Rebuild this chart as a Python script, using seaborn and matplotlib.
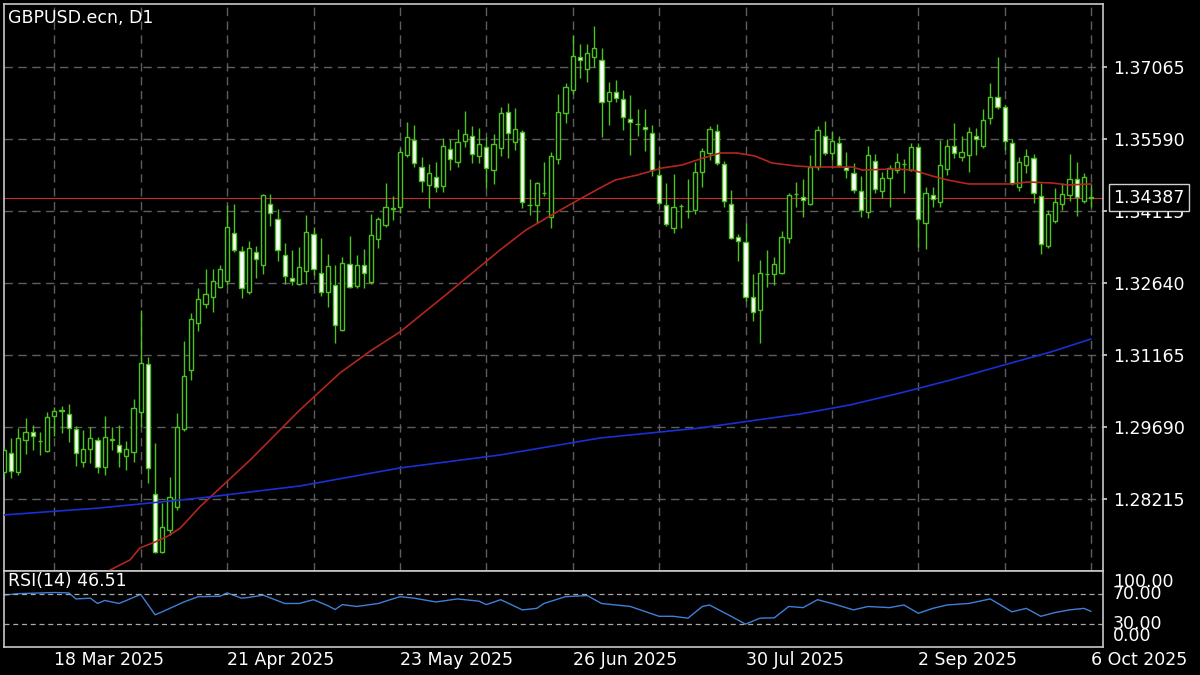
import matplotlib
matplotlib.use("Agg")
import matplotlib.pyplot as plt
import numpy as np
import pandas as pd
import seaborn as sns

sns.set_theme(style="dark", rc={"axes.facecolor": "black", "figure.facecolor": "black"})
plt.rcParams["font.family"] = ["DejaVu Sans"]

#-- data (GBPUSD daily) --
dates = pd.bdate_range("2025-03-07", "2025-10-06")

opens = [1.28769, 1.29158, 1.28769, 1.29424, 1.29588, 1.29404, 1.29199, 1.29916, 1.30039, 1.29957,
         1.29650, 1.28974, 1.29240, 1.29424, 1.28871, 1.29445, 1.29322, 1.29097, 1.29179, 1.29998,
         1.30981, 1.28318, 1.27130, 1.27580, 1.28052, 1.29650, 1.30858, 1.31821, 1.32210, 1.32353,
         1.32558, 1.32681, 1.33665, 1.33296, 1.32456, 1.33275, 1.33009, 1.34259, 1.33952, 1.33214,
         1.32743, 1.32620, 1.32886, 1.33644, 1.32845, 1.32456, 1.32599, 1.31677, 1.33030, 1.32579,
         1.33009, 1.32661, 1.33542, 1.33829, 1.34157, 1.34197, 1.35263, 1.35570, 1.35017, 1.34648,
         1.34812, 1.34628, 1.35386, 1.35119, 1.35550, 1.35652, 1.35242, 1.35427, 1.34955, 1.35406,
         1.36143, 1.35529, 1.35734, 1.34238, 1.34238, 1.34484, 1.33993, 1.35181, 1.36123, 1.36594,
         1.37270, 1.37024, 1.37270, 1.37209, 1.36369, 1.36553, 1.36410, 1.36000, 1.35898, 1.35836,
         1.35713, 1.34853, 1.34238, 1.33767, 1.34218, 1.34116, 1.34136, 1.34915, 1.35304, 1.35754,
         1.35079, 1.34259, 1.33583, 1.33480, 1.32353, 1.32087, 1.32825, 1.32825, 1.32845, 1.33562,
         1.34464, 1.34402, 1.34259, 1.35017, 1.35652, 1.35304, 1.35509, 1.35017, 1.34894, 1.34525,
         1.34095, 1.35140, 1.34525, 1.34792, 1.34955, 1.35079, 1.34955, 1.35427, 1.33870, 1.34443,
         1.34300, 1.34976, 1.35447, 1.35222, 1.35263, 1.35652, 1.35447, 1.36021, 1.36451, 1.36246,
         1.35509, 1.34607, 1.35058, 1.35201, 1.34423, 1.33398, 1.33911, 1.34259, 1.34443, 1.34771,
         1.34320, 1.34395]
highs = [1.29281, 1.29465, 1.29670, 1.29875, 1.29732, 1.29588, 1.29998, 1.30101, 1.30121, 1.30162,
         1.29711, 1.29629, 1.29691, 1.29486, 1.29916, 1.29691, 1.29732, 1.29404, 1.30264, 1.32087,
         1.31124, 1.29363, 1.28134, 1.28667, 1.29978, 1.31452, 1.32026, 1.32538, 1.32927, 1.32927,
         1.33009, 1.34238, 1.34259, 1.33398, 1.33501, 1.33398, 1.34464, 1.34464, 1.34157, 1.33460,
         1.33316, 1.33378, 1.34034, 1.33788, 1.33562, 1.33234, 1.33009, 1.33173, 1.33603, 1.33214,
         1.33337, 1.34054, 1.33993, 1.34689, 1.34423, 1.35406, 1.35939, 1.35877, 1.35222, 1.35079,
         1.35119, 1.35611, 1.35591, 1.35795, 1.36164, 1.35857, 1.35816, 1.35631, 1.35693, 1.36246,
         1.36328, 1.36225, 1.35775, 1.34771, 1.34710, 1.35119, 1.35324, 1.36512, 1.36738, 1.37721,
         1.37537, 1.37537, 1.37905, 1.37455, 1.36758, 1.36799, 1.36594, 1.36492, 1.36205, 1.36205,
         1.35877, 1.35038, 1.34689, 1.34874, 1.34259, 1.34771, 1.35119, 1.35406, 1.35857, 1.35898,
         1.35140, 1.34546, 1.33644, 1.33870, 1.32825, 1.33112, 1.33316, 1.33173, 1.33706, 1.34484,
         1.34710, 1.34771, 1.35263, 1.35857, 1.35959, 1.35754, 1.35652, 1.35324, 1.35099, 1.34833,
         1.35447, 1.35283, 1.34915, 1.35058, 1.35304, 1.35181, 1.35509, 1.35509, 1.34607, 1.34607,
         1.35570, 1.35591, 1.35918, 1.35652, 1.35836, 1.35816, 1.36205, 1.36738, 1.37270, 1.36287,
         1.35591, 1.35222, 1.35386, 1.35283, 1.34689, 1.34136, 1.34587, 1.34689, 1.35283, 1.35119,
         1.34894, 1.34669]
lows = [1.28707, 1.28646, 1.28707, 1.29138, 1.29220, 1.29117, 1.29179, 1.29506, 1.29568, 1.29383,
        1.28892, 1.28871, 1.28953, 1.28748, 1.28707, 1.29220, 1.28871, 1.28810, 1.28974, 1.29691,
        1.28544, 1.27109, 1.27109, 1.27478, 1.27990, 1.29609, 1.30653, 1.31657, 1.32128, 1.32046,
        1.32538, 1.32599, 1.33275, 1.32333, 1.32415, 1.32743, 1.32825, 1.33808, 1.33091, 1.32620,
        1.32599, 1.32599, 1.32620, 1.32804, 1.32374, 1.32148, 1.31411, 1.31657, 1.32538, 1.32538,
        1.32538, 1.32620, 1.33357, 1.33788, 1.33931, 1.34075, 1.35222, 1.35017, 1.34505, 1.34177,
        1.34505, 1.34505, 1.34955, 1.35017, 1.35427, 1.35099, 1.35099, 1.34587, 1.34669, 1.35242,
        1.35201, 1.35365, 1.34177, 1.34034, 1.33870, 1.34423, 1.33767, 1.35079, 1.35918, 1.36512,
        1.36840, 1.36758, 1.37065, 1.35631, 1.35877, 1.36348, 1.35775, 1.35263, 1.35652, 1.35345,
        1.34833, 1.34259, 1.33808, 1.33665, 1.33767, 1.33972, 1.34054, 1.34607, 1.35160, 1.35058,
        1.34197, 1.33542, 1.33091, 1.32272, 1.31862, 1.31411, 1.32558, 1.32599, 1.32825, 1.33460,
        1.34197, 1.33993, 1.34238, 1.34955, 1.35263, 1.35160, 1.35017, 1.34792, 1.34484, 1.33993,
        1.33972, 1.34484, 1.34382, 1.34197, 1.34894, 1.34484, 1.34935, 1.33378, 1.33337, 1.34197,
        1.34197, 1.34853, 1.35201, 1.35140, 1.34915, 1.35263, 1.35406, 1.35898, 1.36205, 1.35365,
        1.34648, 1.34525, 1.34894, 1.34279, 1.33234, 1.33357, 1.33870, 1.34136, 1.34320, 1.34013,
        1.34279, 1.34197]
closes = [1.29220, 1.28790, 1.29465, 1.29588, 1.29506, 1.29394, 1.29896, 1.30019, 1.30019, 1.29670,
          1.29158, 1.29240, 1.29465, 1.28871, 1.29486, 1.29424, 1.29179, 1.29240, 1.30080, 1.31001,
          1.28851, 1.27130, 1.27642, 1.28257, 1.29691, 1.30735, 1.31903, 1.32312, 1.32415, 1.32681,
          1.32927, 1.33788, 1.33316, 1.32538, 1.33357, 1.33132, 1.34443, 1.34075, 1.33316, 1.32784,
          1.32681, 1.32968, 1.33685, 1.32927, 1.32456, 1.32989, 1.31780, 1.33050, 1.32558, 1.33009,
          1.32845, 1.33624, 1.33952, 1.34197, 1.34167, 1.35324, 1.35631, 1.35099, 1.34730, 1.34894,
          1.34607, 1.35447, 1.35181, 1.35529, 1.35693, 1.35283, 1.35488, 1.34996, 1.35488, 1.36123,
          1.35713, 1.35795, 1.34300, 1.34228, 1.34689, 1.34494, 1.35242, 1.36143, 1.36656, 1.37291,
          1.37209, 1.37352, 1.37455, 1.36348, 1.36553, 1.36430, 1.36041, 1.35939, 1.35888, 1.35795,
          1.34955, 1.34279, 1.33849, 1.34197, 1.34213, 1.34106, 1.34915, 1.35345, 1.35795, 1.35099,
          1.34320, 1.33562, 1.33501, 1.32353, 1.32046, 1.32845, 1.32820, 1.33030, 1.33583, 1.34443,
          1.34459, 1.34341, 1.35017, 1.35775, 1.35304, 1.35550, 1.35058, 1.34955, 1.34546, 1.34136,
          1.35263, 1.34566, 1.34792, 1.34996, 1.35119, 1.35069, 1.35427, 1.33952, 1.34484, 1.34361,
          1.35058, 1.35447, 1.35304, 1.35324, 1.35734, 1.35591, 1.35980, 1.36451, 1.36246, 1.35550,
          1.34689, 1.35119, 1.35242, 1.34484, 1.33439, 1.34054, 1.34300, 1.34464, 1.34771, 1.34402,
          1.34812, 1.34387]

# moving averages, sampled along the curve (bar position, price)
red_ma_pos = [14.5, 17.5, 18.9, 21.0, 22.8, 24.5, 27.2, 34.2, 41.1, 46.7, 51.1, 55.0, 61.7, 68.9,
              72.5, 75.6, 79.0, 82.8, 84.9, 88.0, 91.4, 94.2, 96.7, 99.5, 101.8, 104.3, 106.7,
              110.0, 112.3, 117.8, 119.2, 123.8, 126.2, 128.9, 131.1, 134.0, 137.7, 140.1, 142.2,
              145.6, 147.8, 151.0]
red_ma_val = [1.26741, 1.26966, 1.27212, 1.27335, 1.27458, 1.27621, 1.28052, 1.29015, 1.30039,
              1.30801, 1.31268, 1.31637, 1.32436, 1.33316, 1.33726, 1.33993, 1.34279, 1.34587,
              1.34750, 1.34853, 1.34996, 1.35058, 1.35181, 1.35304, 1.35304, 1.35242, 1.35099,
              1.35038, 1.35017, 1.35017, 1.34955, 1.34976, 1.34955, 1.34833, 1.34750, 1.34669,
              1.34669, 1.34669, 1.34710, 1.34689, 1.34648, 1.34669]
blue_ma_pos = [0.0, 13.3, 27.3, 41.1, 55.0, 68.9, 82.8, 96.7, 110.6, 117.5, 124.5, 131.5, 138.4,
               145.4, 151.0]
blue_ma_val = [1.27888, 1.28031, 1.28236, 1.28482, 1.28851, 1.29117, 1.29465, 1.29670, 1.29957,
               1.30142, 1.30387, 1.30653, 1.30940, 1.31227, 1.31493]

rsi_pos = [0, 2, 7, 9, 10, 12, 13, 14, 16, 19, 21, 22, 25, 27, 30, 31, 33, 34, 36, 39, 41, 43, 45,
           46, 47, 49, 52, 55, 57, 60, 63, 66, 67, 69, 72, 74, 75, 78, 81, 83, 87, 91, 93, 95, 97,
           98, 101, 103, 105, 107, 109, 111, 113, 115, 118, 120, 123, 125, 127, 129, 131, 134, 137,
           140, 142, 144, 146, 148, 150, 151]
rsi_val = [68, 70, 71.5, 71, 63, 64, 57, 61, 57, 69, 42, 46, 59, 66, 66.5, 71, 64, 65, 68, 57, 57,
           62, 54, 49, 55.5, 53, 57, 66, 64, 59, 63, 60, 55.5, 62, 48.5, 50.5, 57, 66, 67.5, 57, 53,
           40, 40, 37.5, 53, 55, 40, 29.6, 37.5, 38, 53, 51.5, 62, 57, 48.5, 53, 51.5, 55, 44, 50.5,
           55, 57, 63, 46, 50.5, 40, 45, 48.5, 50.5, 46.51]

price_ticks = [1.28215, 1.29690, 1.31165, 1.32640, 1.34115, 1.35590, 1.37065]
bid = 1.34387

#-- styles --
GREEN = "#4cc21f"
FRAME = "#c8c8c8"
GRIDC = "#5e5e5e"
FS = 12.5
W, H = 1200, 675

x = np.arange(len(dates))
o, h, l, c = map(np.array, (opens, highs, lows, closes))
up = c >= o
body_lo = np.minimum(o, c)
body_h = np.maximum(np.abs(c - o), 0.00002)

fig = plt.figure(figsize=(12, 6.75), dpi=100)
ax = fig.add_axes([3.5 / W, 1 - 571 / H, 1099.5 / W, 567 / H])
ax_rsi = fig.add_axes([3.5 / W, 1 - 646.5 / H, 1099.5 / W, 75.5 / H])
xlim = (-0.06, 152.65)

# candles
ax.vlines(x, l, h, color=GREEN, lw=1, zorder=3)
ax.bar(x, body_h, bottom=body_lo, width=0.6, color=np.where(up, "black", "white"),
       edgecolor=GREEN, linewidth=1, zorder=4)
ax.axhline(bid, color="#c62d26", lw=0.8, zorder=2)
sns.lineplot(x=red_ma_pos, y=red_ma_val, ax=ax, color="#b3261e", lw=1.2,
             estimator=None, sort=False, zorder=5)
sns.lineplot(x=blue_ma_pos, y=blue_ma_val, ax=ax, color="#1a2fd6", lw=1.2,
             estimator=None, sort=False, zorder=5)

ax.set_xlim(*xlim)
ax.set_ylim(1.26740, 1.38356)
ax.set_xticks(np.arange(7, 152, 12))
ax.set_yticks(price_ticks)
ax.set_yticklabels([f"{p:.5f}" for p in price_ticks])
ax.yaxis.tick_right()
ax.tick_params(axis="y", colors=FRAME, labelcolor="white", labelsize=FS, length=3, pad=4.5)
ax.tick_params(axis="x", length=0, labelbottom=False)
ax.grid(True, color=GRIDC, ls=(0, (6, 4)), lw=1)
ax.set_xlabel("")
ax.set_ylabel("")
for sp in ax.spines.values():
    sp.set_color(FRAME)
    sp.set_linewidth(1.2)

ax.text((1113 - 3.5) / 1099.5, bid, f"{bid:.5f}", transform=ax.get_yaxis_transform(),
        ha="left", va="center", color="white", fontsize=FS, zorder=10, clip_on=False,
        bbox=dict(boxstyle="square,pad=0.25", fc="black", ec="#d0d0d0", lw=1))

# RSI panel
sns.lineplot(x=rsi_pos, y=rsi_val, ax=ax_rsi, color="#3f7fd8", lw=1,
             estimator=None, sort=False)
for lv in (70, 30):
    ax_rsi.axhline(lv, color="#a8a8a8", ls=(0, (4, 3)), lw=0.9)
ax_rsi.set_xlim(*xlim)
ax_rsi.set_ylim(0, 100)
ax_rsi.set_yticks([])
ax_rsi.set_xlabel("")
ax_rsi.set_ylabel("")
lab_pos = np.arange(7, 152, 24)
ax_rsi.set_xticks(lab_pos)
ax_rsi.set_xticklabels([f"{dates[i].day} {dates[i]:%b %Y}" for i in lab_pos], ha="left")
ax_rsi.tick_params(axis="x", colors=FRAME, labelcolor="white", labelsize=FS,
                   length=3, pad=0.5, direction="out")
ax_rsi.grid(False)
for sp in ax_rsi.spines.values():
    sp.set_color(FRAME)
    sp.set_linewidth(1.2)
for txt, yv in (("100.00", 86), ("70.00", 70), ("30.00", 30), ("0.00", 14)):
    ax_rsi.text((1113 - 3.5) / 1099.5, yv, txt, transform=ax_rsi.get_yaxis_transform(),
                ha="left", va="center", color="white", fontsize=FS, clip_on=False)

fig.text(8 / W, 1 - 18 / H, "GBPUSD.ecn, D1", color="white", fontsize=FS, va="center")
fig.text(8 / W, 1 - 581 / H, f"RSI(14) {rsi_val[-1]:.2f}", color="white", fontsize=FS,
         va="center")

fig.savefig("out.png", dpi=100, facecolor="black")
